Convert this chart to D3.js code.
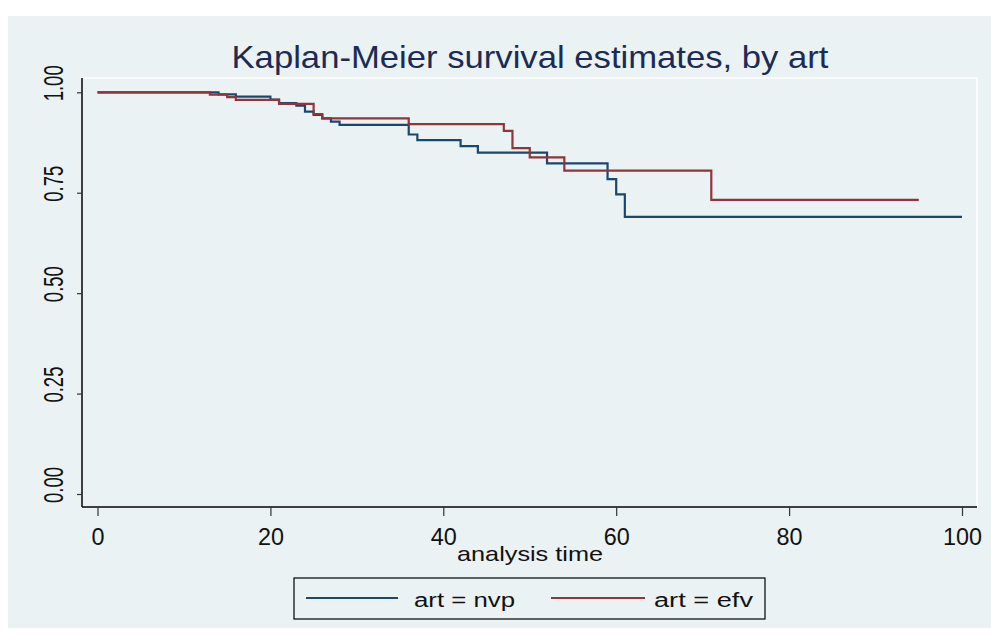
<!DOCTYPE html>
<html>
<head>
<meta charset="utf-8">
<script src="https://cdn.jsdelivr.net/npm/d3@7"></script>
<style>
  body { margin: 0; background: #fff; }
  text { font-family: "Liberation Sans", Arial, sans-serif; }
</style>
</head>
<body>
<div class="km-container"></div>
<script>
// KM steps (time, survival)
const nvpTime = [0, 14, 16, 20, 21, 23, 24, 25, 26, 27, 28, 36, 37, 42, 44, 52, 59, 60, 61, 100];
const nvpSurv = [1.0, 0.995, 0.989, 0.982, 0.973, 0.967, 0.952, 0.944, 0.935, 0.927, 0.919, 0.895, 0.881, 0.866, 0.850, 0.823, 0.784, 0.746, 0.690, 0.690];
const efvTime = [0, 13, 15, 16, 21, 25, 26, 36, 47, 48, 50, 54, 71, 95];
const efvSurv = [1.0, 0.994, 0.988, 0.981, 0.971, 0.946, 0.935, 0.921, 0.904, 0.861, 0.838, 0.805, 0.732, 0.732];

const xTicks = [0, 20, 40, 60, 80, 100];
const yTicks = [0, 0.25, 0.5, 0.75, 1];
const yTickLabels = ['0.00', '0.25', '0.50', '0.75', '1.00'];

const seriesNames = ['art = nvp', 'art = efv'];
const seriesColors = ['#1a476f', '#90353b'];

const outerWidth = 991;
const outerHeight = 639;
const bgColor = '#eaf2f3';

// plot region box
const plot = { left: 82, top: 78, right: 977, bottom: 507 };

const svg = d3.select('.km-container').append('svg')
    .attr('width', outerWidth)
    .attr('height', outerHeight);

// Background panel
svg.append('rect')
    .attr('x', 8).attr('y', 16)
    .attr('width', outerWidth - 8).attr('height', 612)
    .attr('fill', bgColor);

// Plot region outline (white)
svg.append('rect')
    .attr('x', plot.left).attr('y', plot.top)
    .attr('width', plot.right - plot.left).attr('height', plot.bottom - plot.top)
    .attr('fill', bgColor)
    .attr('stroke', '#fff')
    .attr('stroke-width', 1.5);

// Scales
const x = d3.scaleLinear().domain([0, 100]).range([97.5, 962]);
const y = d3.scaleLinear().domain([0, 1]).range([494, 92.3]);

// Axes
const xAxis = d3.axisBottom(x).tickValues(xTicks).tickSize(9).tickFormat(d3.format('d'));
const yAxis = d3.axisLeft(y).tickValues(yTicks).tickSize(5).tickFormat('');

const gx = svg.append('g')
    .attr('transform', `translate(0, ${plot.bottom})`)
    .call(xAxis);
gx.select('.domain').attr('d', `M${plot.left},0H${plot.right}`).attr('stroke', '#000').attr('stroke-width', 1.5);
gx.selectAll('.tick line').attr('stroke', '#333').attr('stroke-width', 1.2);
gx.selectAll('.tick text')
    .attr('y', 22)
    .attr('dy', '0.71em')
    .attr('font-size', 23)
    .attr('fill', '#111')
    .attr('font-family', '"Liberation Sans", Arial, sans-serif')
    .attr('textLength', d => String(d).length * 13)
    .attr('lengthAdjust', 'spacingAndGlyphs');

const gy = svg.append('g')
    .attr('transform', `translate(${plot.left}, 0)`)
    .call(yAxis);
gy.select('.domain').attr('d', `M0,${plot.top}V${plot.bottom}`).attr('stroke', '#000').attr('stroke-width', 1.5);
gy.selectAll('.tick line').attr('stroke', '#333').attr('stroke-width', 1.2);

// rotated y tick labels (glyphs a little stretched, as in the picture)
svg.append('g').selectAll('text')
    .data(yTicks)
    .join('text')
    .attr('transform', d => `translate(63, ${y(d) - 9}) scale(1.12, 1) rotate(-90)`)
    .attr('text-anchor', 'middle')
    .attr('font-size', 24)
    .attr('fill', '#111')
    .attr('textLength', 36)
    .attr('lengthAdjust', 'spacingAndGlyphs')
    .text((d, i) => yTickLabels[i]);

// Title
svg.append('text')
    .attr('x', 530).attr('y', 68)
    .attr('text-anchor', 'middle')
    .attr('font-size', 32)
    .attr('fill', '#1c2b55')
    .attr('textLength', 597)
    .attr('lengthAdjust', 'spacingAndGlyphs')
    .text('Kaplan-Meier survival estimates, by art');

// X axis title
svg.append('text')
    .attr('x', 530).attr('y', 561)
    .attr('text-anchor', 'middle')
    .attr('font-size', 21)
    .attr('fill', '#111')
    .attr('textLength', 146)
    .attr('lengthAdjust', 'spacingAndGlyphs')
    .text('analysis time');

// Survival curves
const line = d3.line()
    .x(d => x(d[0]))
    .y(d => y(d[1]))
    .curve(d3.curveStepAfter);

const series = [
    d3.zip(nvpTime, nvpSurv),
    d3.zip(efvTime, efvSurv)
];

svg.append('g').selectAll('path')
    .data(series)
    .join('path')
    .attr('d', line)
    .attr('fill', 'none')
    .attr('stroke', (d, i) => seriesColors[i])
    .attr('stroke-width', 2.2);

// Legend
const legend = svg.append('g');
legend.append('rect')
    .attr('x', 294).attr('y', 578)
    .attr('width', 471).attr('height', 41)
    .attr('fill', bgColor)
    .attr('stroke', '#000')
    .attr('stroke-width', 1.2);

const legendItems = [
    { x1: 306, x2: 398, tx: 414, tw: 101 },
    { x1: 551, x2: 645, tx: 654, tw: 99 }
];

legendItems.forEach((it, i) => {
    legend.append('line')
        .attr('x1', it.x1).attr('x2', it.x2)
        .attr('y1', 598).attr('y2', 598)
        .attr('stroke', seriesColors[i])
        .attr('stroke-width', 2.2);
    legend.append('text')
        .attr('x', it.tx).attr('y', 607)
        .attr('font-size', 20)
        .attr('fill', '#111')
        .attr('textLength', it.tw)
        .attr('lengthAdjust', 'spacingAndGlyphs')
        .text(seriesNames[i]);
});
</script>
</body>
</html>
